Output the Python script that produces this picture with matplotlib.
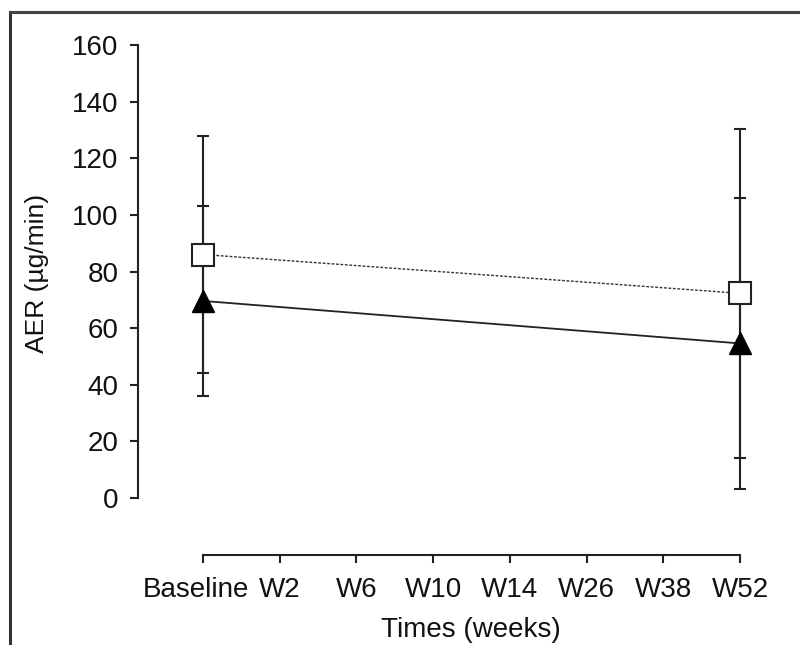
import matplotlib
matplotlib.use("Agg")
import matplotlib.pyplot as plt
from matplotlib.lines import Line2D
from matplotlib.transforms import ScaledTranslation

plt.rcParams['font.family'] = ['Liberation Sans', 'DejaVu Sans']

categories = ["Baseline", "W2", "W6", "W10", "W14", "W26", "W38", "W52"]
x_idx = [0, 7]
square_vals = [86, 72.3]
square_err = [42, 58]
triangle_vals = [69.6, 54.6]
triangle_err = [33.5, 51.5]
y_ticks = [0, 20, 40, 60, 80, 100, 120, 140, 160]

fig = plt.figure(figsize=(8, 6.45), dpi=100)
W, H = 800, 645
ppx = (740 - 203) / 7.0
ppy = (498 - 45) / 160.0
xlo, xhi = -0.85, 7.3
ylo, yhi = -20.0, 162.0
left = 203 - (0 - xlo) * ppx
right = 203 + (xhi - 0) * ppx
bottom = 498 + (0 - ylo) * ppy
top = 498 - yhi * ppy
ax = fig.add_axes([left / W, 1 - bottom / H, (right - left) / W, (bottom - top) / H])
ax.set_xlim(xlo, xhi)
ax.set_ylim(ylo, yhi)

ax.errorbar(x_idx, square_vals, yerr=square_err, fmt='none', ecolor='#222222',
            elinewidth=1.5, capsize=4.5, capthick=1.5, zorder=2)
ax.errorbar(x_idx, triangle_vals, yerr=triangle_err, fmt='none', ecolor='#222222',
            elinewidth=1.5, capsize=4.5, capthick=1.5, zorder=2)

ax.plot(x_idx, square_vals, linestyle=(0, (2, 1.2)), color='#333333', linewidth=1.0,
        marker='s', markersize=16, markerfacecolor='white', markeredgecolor='#222222',
        markeredgewidth=1.5, zorder=3)
ax.plot(x_idx, triangle_vals, linestyle='-', color='#222222', linewidth=1.3,
        marker='^', markersize=16, markerfacecolor='black', markeredgecolor='black',
        zorder=3)

for s in ['top', 'right']:
    ax.spines[s].set_visible(False)
ax.spines['left'].set_bounds(0, 160)
ax.spines['bottom'].set_bounds(0, 7)
for s in ['left', 'bottom']:
    ax.spines[s].set_linewidth(1.5)
    ax.spines[s].set_color('#222222')

ax.set_yticks(y_ticks)
ax.set_yticklabels([str(v) for v in y_ticks])
ax.set_xticks(range(len(categories)))
ax.set_xticklabels(categories)
ax.tick_params(axis='both', direction='out', length=6, width=1.5, color='#222222',
               labelsize=20, labelcolor='#111111')
ax.tick_params(axis='x', pad=10)
ax.tick_params(axis='y', pad=8)

# shift "Baseline" a little left as in the reference
lbl0 = ax.get_xticklabels()[0]
lbl0.set_transform(lbl0.get_transform() + ScaledTranslation(-7 / 100, 0, fig.dpi_scale_trans))

ax.set_ylabel("AER (µg/min)", fontsize=19, color='#111111')
ax.set_xlabel("Times (weeks)", fontsize=20, color='#111111')
ax.yaxis.set_label_coords((49 - left) / (right - left), (bottom - 273) / (bottom - top))
ax.xaxis.set_label_coords((471 - left) / (right - left), (bottom - 617) / (bottom - top))

fig.add_artist(Line2D([10 / W, 10 / W], [0, 1 - 12 / H], transform=fig.transFigure,
                      color='#333333', linewidth=2.2))
fig.add_artist(Line2D([10 / W, 1.0], [1 - 12 / H, 1 - 12 / H], transform=fig.transFigure,
                      color='#444444', linewidth=2.2))

fig.savefig("out.png", dpi=100)
